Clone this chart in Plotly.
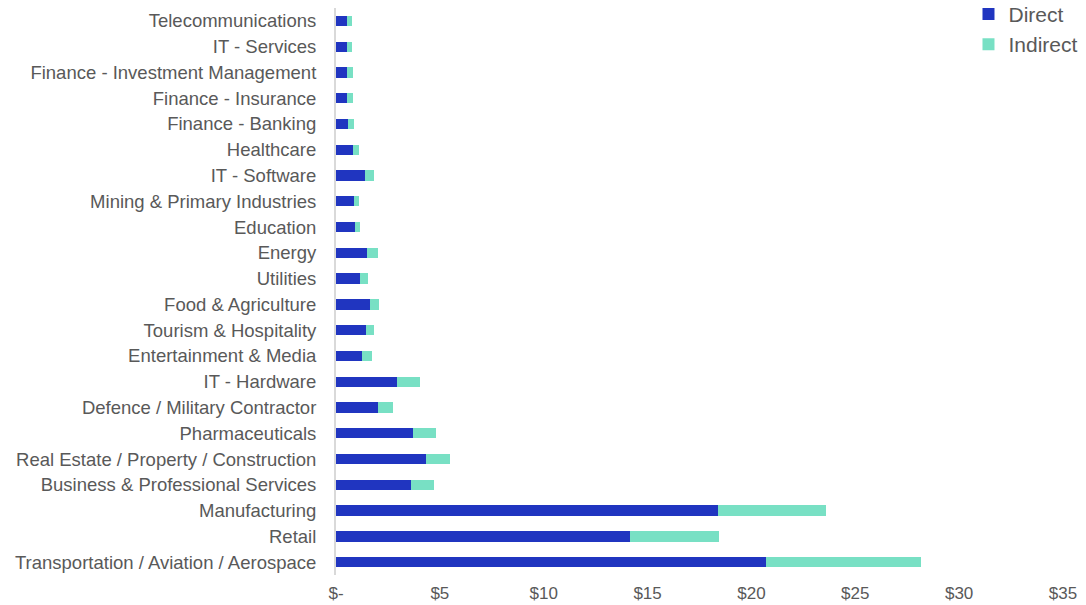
import plotly.graph_objects as go

# Industries listed bottom-to-top as they appear on the category axis
industries = [
    "Transportation / Aviation / Aerospace",
    "Retail",
    "Manufacturing",
    "Business & Professional Services",
    "Real Estate / Property / Construction",
    "Pharmaceuticals",
    "Defence / Military Contractor",
    "IT - Hardware",
    "Entertainment & Media",
    "Tourism & Hospitality",
    "Food & Agriculture",
    "Utilities",
    "Energy",
    "Education",
    "Mining & Primary Industries",
    "IT - Software",
    "Healthcare",
    "Finance - Banking",
    "Finance - Insurance",
    "Finance - Investment Management",
    "IT - Services",
    "Telecommunications",
]

direct = [20.7, 14.15, 18.4, 3.63, 4.33, 3.69, 2.01, 2.94, 1.24, 1.43, 1.64, 1.15,
          1.5, 0.92, 0.89, 1.39, 0.84, 0.57, 0.52, 0.52, 0.52, 0.52]
indirect = [7.45, 4.27, 5.18, 1.07, 1.14, 1.14, 0.71, 1.12, 0.47, 0.41, 0.44, 0.38,
            0.51, 0.24, 0.22, 0.46, 0.27, 0.32, 0.32, 0.32, 0.23, 0.24]

tick_vals = [0, 5, 10, 15, 20, 25, 30, 35]
tick_text = ["$-", "$5", "$10", "$15", "$20", "$25", "$30", "$35"]

DIRECT_COLOR = "#2035C0"
INDIRECT_COLOR = "#78E0C4"
TEXT_COLOR = "#595959"

fig = go.Figure()
fig.add_trace(go.Bar(y=industries, x=direct, name="Direct", orientation="h",
                     marker=dict(color=DIRECT_COLOR, line=dict(width=0)),
                     legendgroup="d"))
fig.add_trace(go.Bar(y=industries, x=indirect, name="Indirect", orientation="h",
                     marker=dict(color=INDIRECT_COLOR, line=dict(width=0)),
                     legendgroup="i"))

fig.update_layout(
    barmode="stack",
    bargap=0.6,
    width=1086,
    height=605,
    margin=dict(l=336, r=23, t=8, b=30, autoexpand=False),
    plot_bgcolor="white",
    paper_bgcolor="white",
    font=dict(family="Liberation Sans, Arial, sans-serif", color=TEXT_COLOR, size=18),
    legend=dict(
        x=0.870, y=1.025, xanchor="left", yanchor="top",
        font=dict(size=21, color=TEXT_COLOR),
        tracegroupgap=6,
        bgcolor="rgba(0,0,0,0)",
        traceorder="normal",
    ),
    xaxis=dict(
        range=[0, 35],
        tickvals=tick_vals,
        ticktext=tick_text,
        showgrid=False,
        zeroline=False,
        showline=False,
        ticks="",
        automargin=False,
        ticklabelstandoff=6,
        tickfont=dict(size=17, color=TEXT_COLOR),
    ),
    yaxis=dict(
        categoryorder="array",
        categoryarray=industries,
        showline=True,
        linecolor="#D9D9D9",
        linewidth=2,
        showgrid=False,
        ticks="",
        automargin=False,
        ticklabelstandoff=14,
        tickfont=dict(size=18.5, color=TEXT_COLOR),
    ),
)

fig.write_html("out.html")
